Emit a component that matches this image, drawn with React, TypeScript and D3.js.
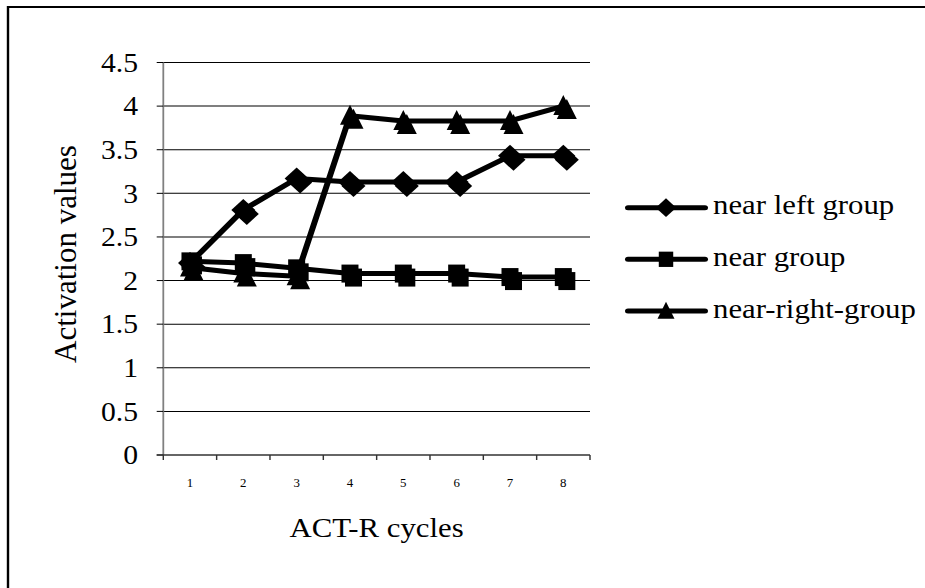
import * as d3 from 'd3';

// the reference is stretched sideways, so draw in narrower units and let the viewBox widen it
const SX = 1.2;
// texts are widened a little less, with a slightly larger size to keep the same width
const TX = 1.12;
const WIDTH = 925;
const HEIGHT = 588;
const VW = WIDTH / SX;

const cycles = ['1', '2', '3', '4', '5', '6', '7', '8'];
const nearLeftGroup = [2.2, 2.81, 3.17, 3.13, 3.13, 3.13, 3.43, 3.43];
const nearGroup = [2.22, 2.2, 2.14, 2.08, 2.08, 2.08, 2.04, 2.04];
const nearRightGroup = [2.15, 2.08, 2.05, 3.89, 3.83, 3.83, 3.83, 4.0];
const seriesNames = ['near left group', 'near group', 'near-right-group'];
const yTicks = [0, 0.5, 1, 1.5, 2, 2.5, 3, 3.5, 4, 4.5];

const PLOT = { left: 163.3 / SX, right: 590 / SX, top: 62.5, bottom: 455 };
const FONT = '"Liberation Serif", "Times New Roman", serif';

type Shape = 'diamond' | 'square' | 'triangle';
const shapes: Shape[] = ['diamond', 'square', 'triangle'];

function markerPath(shape: Shape, cx: number, cy: number, k = 1) {
  if (shape === 'diamond') {
    const w = (12 * k) / SX;
    const h = 11 * k;
    return `M${cx},${cy - h}L${cx + w},${cy}L${cx},${cy + h}L${cx - w},${cy}Z`;
  }
  if (shape === 'square') {
    const w = (8.5 * k) / SX;
    const h = 9 * k;
    return `M${cx - w},${cy - h}H${cx + w}V${cy + h}H${cx - w}Z`;
  }
  const w = (10 * k) / SX;
  return `M${cx},${cy - 11 * k}L${cx + w},${cy + 9 * k}L${cx - w},${cy + 9 * k}Z`;
}

// marker plus its offset shadow copy, both black
function Marker({ shape, cx, cy }: { shape: Shape; cx: number; cy: number }) {
  return (
    <g fill='#000'>
      <path d={markerPath(shape, cx + 3.5 / SX, cy + 4)} />
      <path d={markerPath(shape, cx, cy)} />
    </g>
  );
}

// text placed in screen pixels, widened around its own anchor
function Label({
  x,
  y,
  size,
  anchor = 'start',
  children,
}: {
  x: number;
  y: number;
  size: number;
  anchor?: 'start' | 'middle' | 'end';
  children: React.ReactNode;
}) {
  return (
    <text
      transform={`translate(${x},${y}) scale(${TX},1)`}
      textAnchor={anchor}
      fontFamily={FONT}
      fontSize={size}
    >
      {children}
    </text>
  );
}

export default function App() {
  const x = d3.scaleBand().domain(cycles).range([PLOT.left, PLOT.right]);
  const y = d3.scaleLinear().domain([0, 4.5]).range([PLOT.bottom, PLOT.top]);
  const cx = (c: string) => (x(c) ?? 0) + x.bandwidth() / 2;

  const line = d3
    .line<number>()
    .x((_, i) => cx(cycles[i]))
    .y((v) => y(v));

  const series = [nearLeftGroup, nearGroup, nearRightGroup];
  const boundaries = d3.range(cycles.length + 1).map((i) => PLOT.left + i * x.bandwidth());
  const legendRows = [207.7, 259.3, 311];

  return (
    <div style={{ position: 'fixed', left: 0, top: 0, width: WIDTH, height: HEIGHT }}>
      <svg
        width={WIDTH}
        height={HEIGHT}
        viewBox={`0 0 ${VW} ${HEIGHT}`}
        preserveAspectRatio='none'
        style={{ display: 'block', position: 'absolute', left: 0, top: 0, background: '#fff' }}
      >
        <path d={`M${8 / SX},${HEIGHT + 5}V7H${VW + 5}`} fill='none' stroke='#000' strokeWidth={2} />

        {/* gridlines */}
        {yTicks.slice(1).map((t) => (
          <line key={t} x1={PLOT.left} x2={PLOT.right} y1={y(t)} y2={y(t)} stroke='#000' strokeWidth={1} />
        ))}

        {/* y axis */}
        <line x1={PLOT.left} x2={PLOT.left} y1={PLOT.top} y2={PLOT.bottom} stroke='#808080' strokeWidth={1.5} />
        {yTicks.map((t) => (
          <line key={t} x1={PLOT.left - 5.5} x2={PLOT.left} y1={y(t)} y2={y(t)} stroke='#000' strokeWidth={1} />
        ))}

        {/* x axis */}
        <line x1={PLOT.left - 5.5} x2={PLOT.right} y1={PLOT.bottom} y2={PLOT.bottom} stroke='#333' strokeWidth={1.5} />
        {boundaries.map((b, i) => (
          <line key={i} x1={b} x2={b} y1={PLOT.bottom} y2={PLOT.bottom + 5} stroke='#333' strokeWidth={1.2} />
        ))}

        {/* series */}
        {series.map((values, s) => (
          <g key={seriesNames[s]}>
            <path d={line(values) ?? ''} fill='none' stroke='#000' strokeWidth={5} strokeLinejoin='round' />
            {values.map((v, i) => (
              <Marker key={i} shape={shapes[s]} cx={cx(cycles[i])} cy={y(v)} />
            ))}
          </g>
        ))}

        {/* legend keys */}
        {seriesNames.map((name, s) => (
          <g key={name}>
            <line
              x1={628 / SX}
              x2={705 / SX}
              y1={legendRows[s]}
              y2={legendRows[s]}
              stroke='#000'
              strokeWidth={5}
              strokeLinecap='round'
            />
            <path d={markerPath(shapes[s], 666 / SX, legendRows[s], 0.85)} fill='#000' />
          </g>
        ))}
      </svg>

      {/* texts drawn in a plain pixel svg on top */}
      <svg width={WIDTH} height={HEIGHT} style={{ display: 'block', position: 'absolute', left: 0, top: 0 }}>
        {yTicks.map((t) => (
          <Label key={t} x={138} y={y(t) + 9.3} size={26.5} anchor='end'>
            {t}
          </Label>
        ))}
        {cycles.map((c) => (
          <Label key={c} x={cx(c) * SX} y={487} size={11.5} anchor='middle'>
            {c}
          </Label>
        ))}
        <Label x={((PLOT.left + PLOT.right) / 2) * SX} y={537} size={27.5} anchor='middle'>
          ACT-R cycles
        </Label>
        <text
          transform='translate(65,254) rotate(-90)'
          textAnchor='middle'
          dominantBaseline='central'
          fontFamily={FONT}
          fontSize={31}
        >
          Activation values
        </text>
        {seriesNames.map((name, s) => (
          <Label key={name} x={713} y={legendRows[s] + 6.5} size={27.5}>
            {name}
          </Label>
        ))}
      </svg>
    </div>
  );
}
